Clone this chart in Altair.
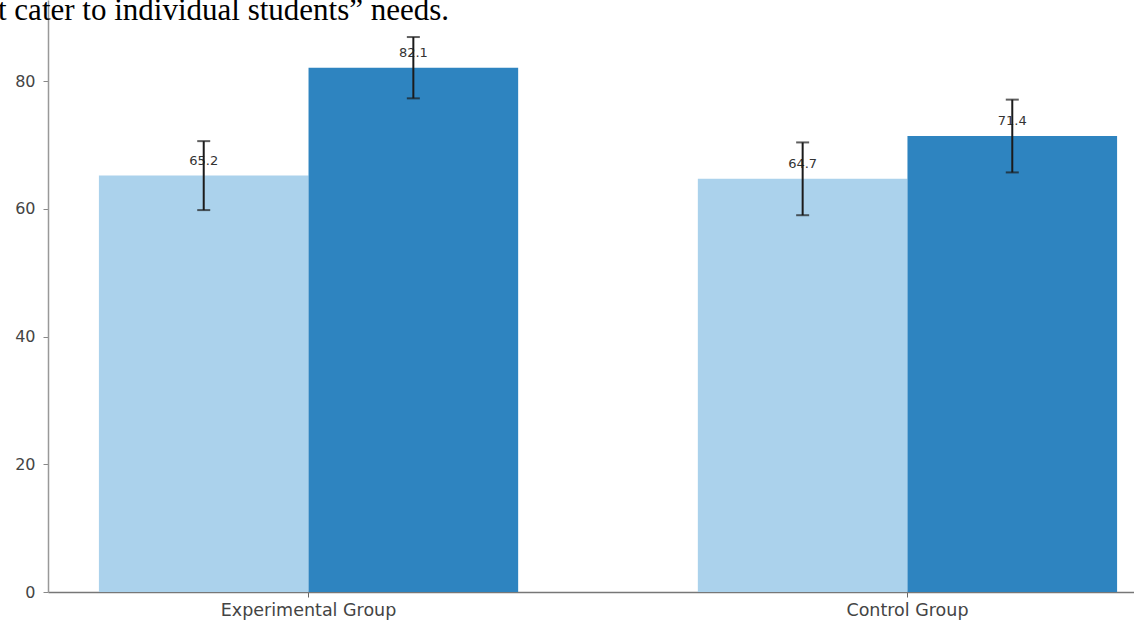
import altair as alt
import pandas as pd

groups = ["Experimental Group", "Control Group"]
series = ["Pre-test", "Post-test"]
pre_means = [65.2, 64.7]
post_means = [82.1, 71.4]
pre_err = [5.4, 5.7]
post_err = [4.8, 5.7]
y_ticks = [0, 20, 40, 60, 80]
colors = ["#abd2ec", "#2e84c0"]
top_text = "t cater to individual students\u201d needs."

rows = []
for i, g in enumerate(groups):
    for s, m, e in ((series[0], pre_means[i], pre_err[i]), (series[1], post_means[i], post_err[i])):
        rows.append({"group": g, "series": s, "mean": m, "lo": m - e, "hi": m + e,
                     "label": f"{m:.1f}"})
df = pd.DataFrame(rows)

x_enc = alt.X("group:N", sort=groups, title=None,
              scale=alt.Scale(range=[0, 1120], paddingInner=0.3, paddingOuter=0.085),
              axis=alt.Axis(labelAngle=0, labelFontSize=17.5, labelColor="#444", labelFont="DejaVu Sans",
                            tickColor="#666", tickSize=5, domainColor="#777", domainWidth=1.5,
                            labelPadding=4))
xo = alt.XOffset("series:N", sort=series, scale=alt.Scale(paddingInner=0, paddingOuter=0))
y_scale = alt.Scale(domain=[0, 92.7], nice=False, zero=True)

base = alt.Chart(df)

bars = base.mark_bar().encode(
    x=x_enc, xOffset=xo,
    y=alt.Y("mean:Q", scale=y_scale, title=None,
            axis=alt.Axis(values=y_ticks, labelFontSize=16, labelColor="#444", labelFont="DejaVu Sans",
                          tickColor="#888", tickSize=5, domainColor="#999", domainWidth=1.5,
                          grid=False, labelPadding=8)),
    color=alt.Color("series:N", sort=series, scale=alt.Scale(domain=series, range=colors), legend=None),
)

rules = base.mark_rule(color="#1b1b1b", strokeWidth=2).encode(
    x=alt.X("group:N", sort=groups), xOffset=xo,
    y=alt.Y("lo:Q", scale=y_scale), y2="hi:Q",
)
caps_hi = base.mark_tick(color="#1b1b1b", thickness=2, size=13).encode(
    x=alt.X("group:N", sort=groups), xOffset=xo,
    y=alt.Y("hi:Q", scale=y_scale),
)
caps_lo = base.mark_tick(color="#1b1b1b", thickness=2, size=13).encode(
    x=alt.X("group:N", sort=groups), xOffset=xo,
    y=alt.Y("lo:Q", scale=y_scale),
)
texts = base.mark_text(baseline="bottom", dy=-8, fontSize=13, color="#333", font="DejaVu Sans").encode(
    x=alt.X("group:N", sort=groups), xOffset=xo,
    y=alt.Y("mean:Q", scale=y_scale),
    text="label:N",
)
header = alt.Chart(pd.DataFrame({"t": [top_text]})).mark_text(
    align="left", baseline="alphabetic", fontSize=31, font="Liberation Serif", color="#000"
).encode(x=alt.value(-50), y=alt.value(20), text="t:N")

chart = alt.layer(bars, texts, rules, caps_hi, caps_lo, header).resolve_scale(
    x="shared", y="shared"
).properties(
    width=1086, height=592,
    autosize=alt.AutoSizeParams(type="none"),
    padding={"left": 48, "top": 0, "right": 0, "bottom": 30},
    background="white",
).configure_view(stroke=None)

chart.save("out.html", embed_options={"renderer": "svg", "actions": False})
